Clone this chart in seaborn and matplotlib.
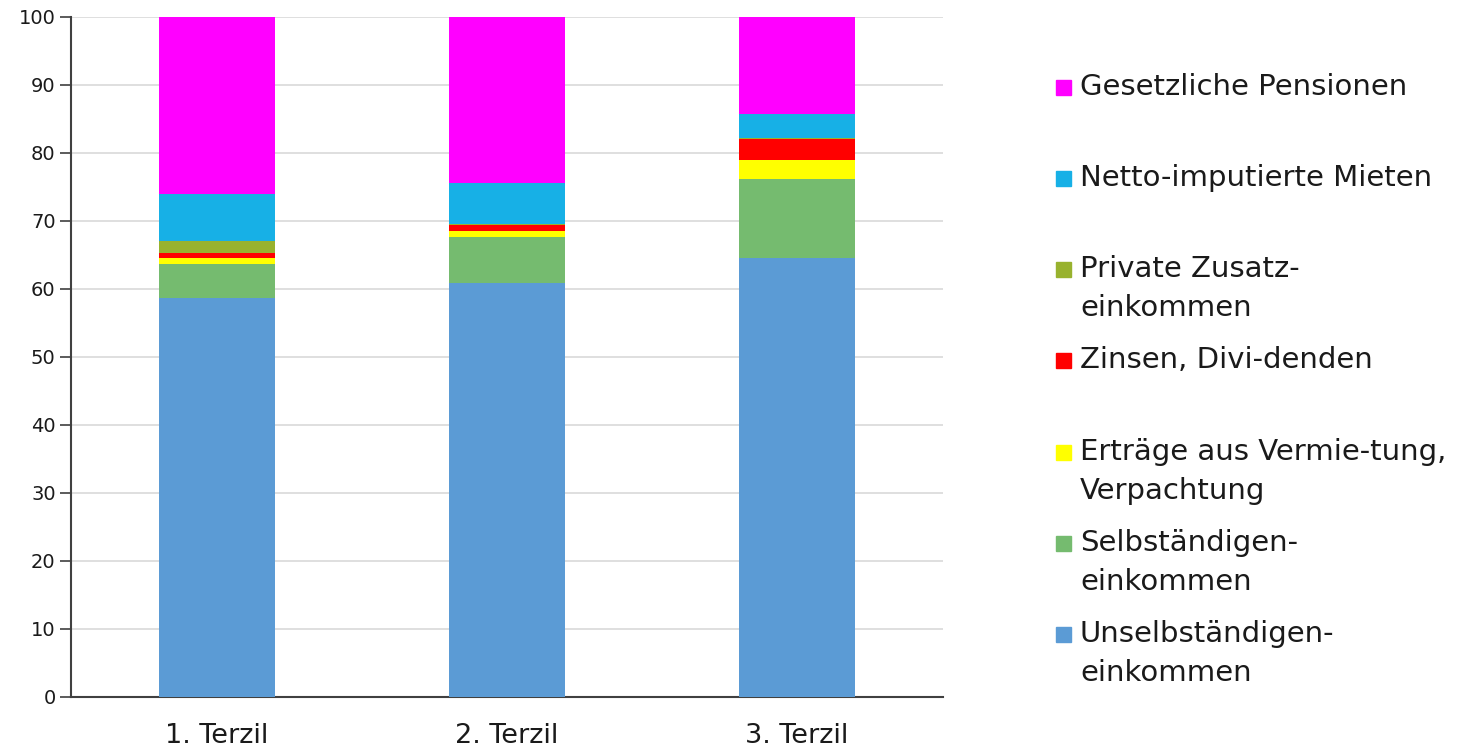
import numpy as np
import pandas as pd
import matplotlib
matplotlib.use('Agg')
import matplotlib.pyplot as plt
import seaborn as sns
from matplotlib.patches import Rectangle

# Einkommensanteile je Terzil (Prozent)
terzile = ['1. Terzil', '2. Terzil', '3. Terzil']
unselbst = [58.7, 60.9, 64.5]
selbst = [5.0, 6.7, 11.7]
vermietung = [0.8, 1.0, 2.7]
zinsen = [0.8, 0.8, 3.1]
privat = [1.7, 0.2, 0.2]
mieten = [7.0, 6.0, 3.6]
pensionen = [26.0, 24.6, 14.2]

labels = ['Unselbständigen-\neinkommen', 'Selbständigen-\neinkommen',
          'Erträge aus Vermie-tung,\nVerpachtung', 'Zinsen, Divi-denden',
          'Private Zusatz-\neinkommen', 'Netto-imputierte Mieten',
          'Gesetzliche Pensionen']
colors = ['#5B9BD5', '#75BB6F', '#FFFF00', '#FF0000',
          '#98B22E', '#17B0E6', '#FF00FF']
series = [unselbst, selbst, vermietung, zinsen, privat, mieten, pensionen]

sns.set_style('white')
plt.rcParams['font.family'] = ['DejaVu Sans']

fig = plt.figure(figsize=(14.73, 7.54), dpi=100)
ax = fig.add_axes([71 / 1473, 1 - 697 / 754, (943 - 71) / 1473, (697 - 17) / 754])

bottom = np.zeros(len(terzile))
for vals, lab, col in zip(series, labels, colors):
    df = pd.DataFrame({'Terzil': terzile, 'Wert': vals})
    sns.barplot(data=df, x='Terzil', y='Wert', color=col, width=0.4,
                bottom=bottom, ax=ax, saturation=1, linewidth=0, zorder=3)
    bottom = bottom + np.array(vals)

ax.set_ylim(0, 100)
ax.set_xlim(-0.503, 2.503)
ax.set_yticks(range(0, 101, 10))
ax.yaxis.grid(True, color='#d9d9d9', linewidth=1.2, zorder=0)
ax.set_axisbelow(True)
ax.set_xlabel('')
ax.set_ylabel('')
for s in ['top', 'right']:
    ax.spines[s].set_visible(False)
for s in ['left', 'bottom']:
    ax.spines[s].set_color('#404040')
    ax.spines[s].set_linewidth(1.5)
ax.tick_params(axis='y', left=True, length=8, width=1.2, color='#404040',
               labelsize=14, pad=3, labelcolor='#1a1a1a')
ax.tick_params(axis='x', bottom=False, labelsize=19.5, pad=15, labelcolor='#1a1a1a')

# Legende von oben nach unten
ys = [87, 178, 269, 360, 452, 543, 634]
for y, lab, col in zip(ys, labels[::-1], colors[::-1]):
    fig.patches.append(Rectangle((1056 / 1473, 1 - (y + 8) / 754), 15 / 1473, 15 / 754,
                                 transform=fig.transFigure, color=col))
    fig.text(1080 / 1473, 1 - (y - 14) / 754, lab, fontsize=21, va='top',
             ha='left', color='#1a1a1a', linespacing=1.5)

fig.savefig('out.png', dpi=100)
